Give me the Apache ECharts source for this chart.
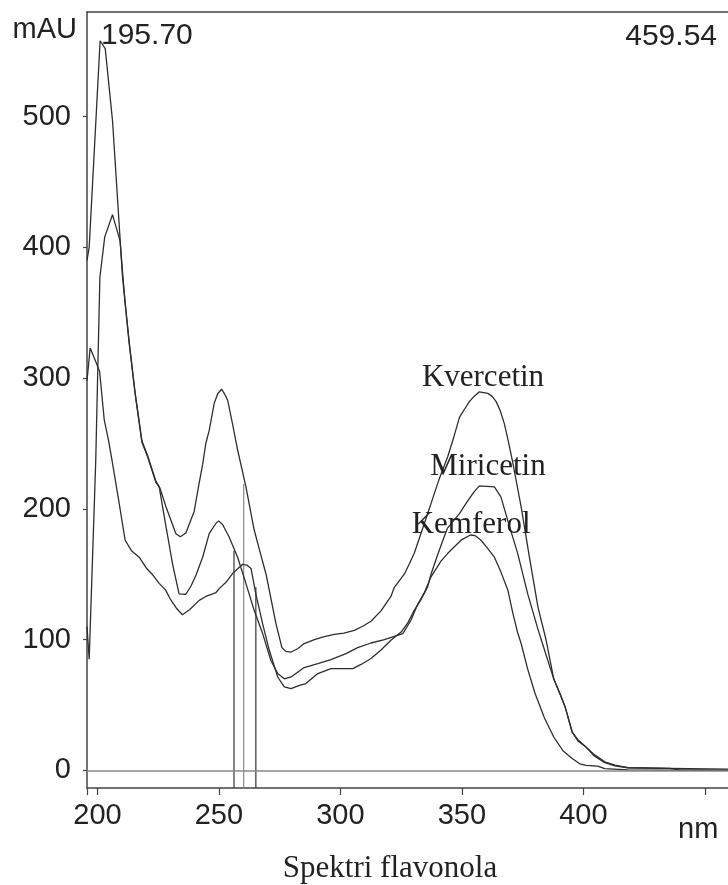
<!DOCTYPE html>
<html><head><meta charset="utf-8">
<script src="https://cdn.jsdelivr.net/npm/echarts@6/dist/echarts.min.js"></script>
<style>html,body{margin:0;padding:0;background:#fff}#c{width:728px;height:885px}</style>
</head><body><div id="c"></div>
<script>
// ---- data (wavelength nm, absorbance mAU) ----
const X_MIN = 195.70, X_MAX = 459.54;
const Y_MIN = -13.5, Y_MAX = 580;
const xTickValues = [200, 250, 300, 350, 400, 450];
const xLabelValues = [200, 250, 300, 350, 400];
const yTickValues = [0, 100, 200, 300, 400, 500];

const kvercetin = [
[195.7,390],[196.6,400],[201.1,558],[203.2,552],[206.2,497],[210.3,378],[211.4,357],[213.1,326],[215.5,288],[218.3,251],[220.6,240],[224.1,220],[225.7,216],[228.5,200],[232.3,181],[234.1,178.6],[236.4,181.6],[239.8,198],[241.9,220],[243.3,234],[244.6,250],[246.0,260],[248.1,281],[249.5,288],[251.1,291.5],[252.3,288],[253.6,283],[255.6,265],[257.7,245],[261.1,217],[264.5,184],[266.5,170],[269.4,150],[273.5,112],[275.9,94],[277.5,91],[279.7,90.5],[282.4,93],[285.1,97],[289.3,100],[293,102],[297.5,104],[301.5,105],[305.7,107],[309,110],[312.6,114],[316.7,122],[320.8,133],[322.2,140],[326.3,150],[328.4,158],[330.4,166],[333.5,183],[337.3,204],[340.5,222],[344.2,240],[346.7,255],[349.0,270],[351,276],[353.1,282],[355,286],[357.2,289.5],[360.7,288.3],[362.5,286],[364.1,282],[365.8,275],[367.5,265],[369.2,251],[371.0,235],[374.4,201.5],[377.8,163],[381.3,125],[384.7,99.5],[387.8,70],[390.5,58],[392.5,48.5],[395.4,29.3],[398,22],[401.1,17.8],[404.5,11],[408.8,5.9],[413,3.5],[418.3,2],[435.5,1.5],[459.54,1]
];
const kemferol = [
[195.7,110],[196.6,85],[199.3,237],[201.0,377],[203.0,408],[206.2,425],[209.3,405],[210.6,375],[211.4,358],[213.1,327],[215.5,289],[218.3,252],[220.6,241],[224.1,221],[225.4,217],[227.5,194],[229.2,176],[230.9,158],[233.6,135],[236.4,134.7],[238.5,141],[240.5,149],[243.3,163],[246.0,181],[248.8,189],[249.9,190.8],[251.5,188],[254.2,178.5],[257.7,163],[261.1,143],[264.5,122.4],[268.0,104.6],[271.4,84],[274.2,74],[276.9,70],[279.7,71.4],[282.4,75],[285.1,78.6],[290.7,81.6],[296.1,84.7],[302.3,89.3],[307.1,93.9],[312.6,97.4],[318.1,100],[322.2,102.5],[325.7,104.6],[329.1,115],[331.8,127],[334.6,136],[337.3,148],[341.4,160],[344.2,166],[346.9,171],[350,176.5],[353.5,180],[355.5,179.5],[357.9,176],[360.5,170],[363.4,163],[366,152],[368.9,138],[371,120],[373,105],[374.4,97],[377,78],[380.1,59],[384,40],[387.8,25.5],[391.6,15],[395.4,9],[398.5,5],[401.1,3.8],[405.9,3.3],[408.8,1.3],[418.3,0.3],[459.54,0]
];
const miricetin = [
[195.7,298],[197.0,323],[199,314],[200.9,305],[202.8,268],[204.6,252],[206.0,237],[208.7,207],[211.4,176],[214,168],[217.2,163],[220,155],[222.5,150],[225.4,143],[228,138],[230,131],[232.5,124],[235.0,119],[238,123],[241.9,130],[244.6,133],[248.8,136],[250.1,139],[253,144],[255.6,150.5],[259.8,157.6],[261.5,157],[263.2,154.4],[265.2,135],[268.0,112],[270.7,92],[274.2,71.4],[276.9,63.8],[279.7,62.5],[283.1,65],[285.8,66.4],[290.7,74],[296.1,77.8],[305.1,77.8],[308.5,81],[312.6,85.5],[316.7,92],[320.8,99.5],[325.0,105.8],[327.8,113],[330.4,122.4],[333,130],[335.9,140.3],[337.3,150],[339.5,162],[341.4,172],[344,185],[349.0,196.4],[352,205],[355,213],[357.2,217.6],[363.4,216.8],[366.1,209],[368.9,191],[371,178],[373.0,165.8],[377.1,135],[381.3,108],[384.7,88],[387.8,70],[390.5,58],[392.5,48.5],[395.4,29.3],[398,23],[401.1,17.8],[404.5,12],[408.8,6.5],[413,4],[418.3,2],[435.5,1.5],[439.5,0.3],[459.54,0]
];
// vertical reference lines: [wavelength, top value]
const peakMarks = [[256.2,168],[260.2,219],[265.2,140]];
const peakMarkColors = ['#333','#888','#333'];

// ---- chart ----
const chart = echarts.init(document.getElementById('c'), null, {renderer:'canvas'});
const lineColor = '#2e2e2e';
const axisColor = '#444';
const sans = 'Liberation Sans, Arial, sans-serif';
const serif = 'Liberation Serif, Times New Roman, serif';

function curve(name, data, labelCoord, extra) {
  return Object.assign({
    name: name, type: 'line', data: data, showSymbol: false, symbol: 'none',
    lineStyle: {color: lineColor, width: 1.3}, z: 3, silent: true,
    markPoint: {
      symbol: 'circle', symbolSize: 0, silent: true,
      label: {show: true, position: 'inside', formatter: name, fontFamily: serif, fontSize: 31, color: '#222'},
      data: [{coord: labelCoord}]
    }
  }, extra || {});
}

const vSeries = peakMarks.map((p, i) => ({
  type: 'line', data: [[p[0], Y_MIN], [p[0], p[1]]], showSymbol: false, symbol: 'none', silent: true,
  lineStyle: {color: peakMarkColors[i], width: 1.2}, z: 2
}));

const option = {
  animation: false,
  backgroundColor: '#fff',
  grid: {left: 87, right: 0, top: 12, bottom: 97},
  xAxis: [{
    type: 'value', min: X_MIN, max: X_MAX, position: 'bottom',
    axisLine: {show: true, onZero: false, lineStyle: {color: axisColor, width: 1.5}},
    axisTick: {show: true, customValues: [X_MIN].concat(xTickValues), length: 7, lineStyle: {color: axisColor, width: 1.2}},
    axisLabel: {customValues: xLabelValues, fontSize: 29, fontFamily: sans, color: '#222', margin: 13},
    splitLine: {show: false}
  }, {
    type: 'value', min: X_MIN, max: X_MAX, position: 'top',
    axisLine: {show: true, onZero: false, lineStyle: {color: axisColor, width: 1.5}},
    axisTick: {show: false}, axisLabel: {show: false}, splitLine: {show: false}
  }],
  yAxis: {
    type: 'value', min: Y_MIN, max: Y_MAX,
    axisLine: {show: true, onZero: false, lineStyle: {color: axisColor, width: 1.5}},
    axisTick: {show: true, customValues: yTickValues, length: 4, lineStyle: {color: axisColor, width: 1.2}},
    axisLabel: {customValues: yTickValues, fontSize: 29, fontFamily: sans, color: '#222', margin: 16},
    splitLine: {show: false}
  },
  graphic: [
    {type: 'text', style: {text: 'mAU', x: 77, y: 30, textAlign: 'right', verticalAlign: 'middle', textVerticalAlign: 'middle', font: '29px ' + sans, fill: '#222'}},
    {type: 'text', style: {text: X_MIN.toFixed(2), x: 101, y: 36, textAlign: 'left', verticalAlign: 'middle', textVerticalAlign: 'middle', font: '30px ' + sans, fill: '#222'}},
    {type: 'text', style: {text: X_MAX.toFixed(2), x: 717, y: 37, textAlign: 'right', verticalAlign: 'middle', textVerticalAlign: 'middle', font: '30px ' + sans, fill: '#222'}},
    {type: 'text', style: {text: 'nm', x: 678, y: 830, textAlign: 'left', verticalAlign: 'middle', textVerticalAlign: 'middle', font: '29px ' + sans, fill: '#222'}},
    {type: 'text', style: {text: 'Spektri flavonola', x: 390, y: 869, textAlign: 'center', verticalAlign: 'middle', textVerticalAlign: 'middle', font: '31px ' + serif, fill: '#222'}}
  ],
  series: [
    curve('Kvercetin', kvercetin, [358.7, 300.0], {
      markLine: {silent: true, symbol: ['none','none'], label: {show: false},
        lineStyle: {color: '#888', width: 1.5, type: 'solid'}, data: [{yAxis: 0}]}
    }),
    curve('Miricetin', miricetin, [360.75, 232.0]),
    curve('Kemferol', kemferol, [353.8, 188.0])
  ].concat(vSeries)
};
chart.setOption(option);
</script>
</body></html>
